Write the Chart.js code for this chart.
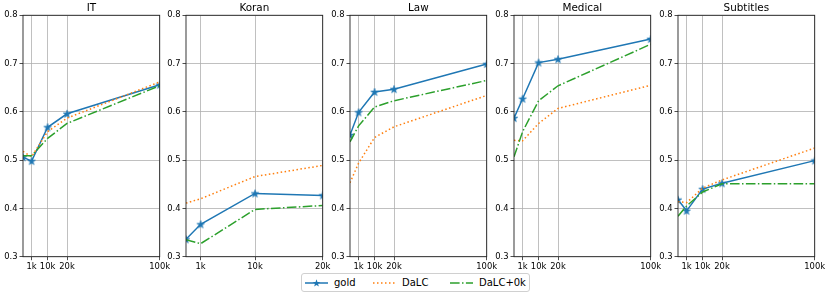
<!DOCTYPE html>
<html>
<head>
<meta charset="utf-8">
<script src="https://cdn.jsdelivr.net/npm/chart.js@4.4.1/dist/chart.umd.min.js"></script>
<style>
  body { margin: 0; width: 830px; height: 296px; background: #fff; position: relative; overflow: hidden; font-family: "DejaVu Sans", sans-serif; }
  canvas.panel { position: absolute; top: 0; }
  #legend { position: absolute; left: 301px; top: 273px; width: 227px; height: 17px; border: 1px solid #d0d0d0; border-radius: 3px; background: rgba(255,255,255,0.8); font-size: 10px; color: #000; }
  #legend .item { position: absolute; top: 0; height: 17px; display: flex; align-items: center; }
  #legend svg { display: block; margin-right: 6px; }
</style>
</head>
<body>
<div id="legend"></div>
<script>
// domains and x steps (axis units 0..100)
const domains = ['IT', 'Koran', 'Law', 'Medical', 'Subtitles'];
const xSteps = [0, 6.3, 18.0, 32.2, 100];
const xLabels = ['', '1k', '10k', '20k', '100k'];
const xStepsKoran = [0, 10.7, 50.5, 100];
const xLabelsKoran = ['', '1k', '10k', '20k'];
const yTicks = [0.3, 0.4, 0.5, 0.6, 0.7, 0.8];

// series, one list per domain (same order as domains)
const gold = [
  [0.506, 0.498, 0.568, 0.596, 0.656],
  [0.336, 0.367, 0.431, 0.427],
  [0.552, 0.599, 0.641, 0.647, 0.699],
  [0.587, 0.627, 0.702, 0.709, 0.751],
  [0.418, 0.395, 0.440, 0.452, 0.499]
];
const dalc = [
  [0.518, 0.507, 0.559, 0.587, 0.662],
  [0.411, 0.420, 0.466, 0.489],
  [0.453, 0.494, 0.547, 0.569, 0.634],
  [0.541, 0.540, 0.576, 0.607, 0.655],
  [0.414, 0.412, 0.442, 0.459, 0.525]
];
const dalc0k = [
  [0.509, 0.509, 0.545, 0.576, 0.654],
  [0.335, 0.327, 0.398, 0.406],
  [0.538, 0.571, 0.610, 0.623, 0.665],
  [0.507, 0.559, 0.623, 0.654, 0.740],
  [0.384, 0.405, 0.434, 0.451, 0.451]
];

const BLUE = '#1f77b4', ORANGE = '#ff7f0e', GREEN = '#2ca02c';
const FONT = '"DejaVu Sans", sans-serif';

// filled 5 point star like matplotlib '*'
function starPath(ctx, cx, cy, ro, ri) {
  ctx.beginPath();
  for (let k = 0; k < 10; k++) {
    const r = k % 2 ? ri : ro;
    const a = -Math.PI / 2 + k * Math.PI / 5;
    ctx.lineTo(cx + r * Math.cos(a), cy + r * Math.sin(a));
  }
  ctx.closePath();
}
const star = document.createElement('canvas');
star.width = 10; star.height = 10;
(function () {
  const c = star.getContext('2d');
  starPath(c, 5, 5.3, 4, 1.6);
  c.fillStyle = BLUE; c.fill();
  c.strokeStyle = BLUE; c.lineWidth = 0.6; c.stroke();
})();

const frame = {
  id: 'frame',
  afterDraw(chart) {
    const a = chart.chartArea, ctx = chart.ctx;
    ctx.save();
    ctx.strokeStyle = '#222';
    ctx.lineWidth = 0.9;
    ctx.strokeRect(a.left, a.top, a.right - a.left, a.bottom - a.top);
    ctx.restore();
  }
};

const plotLefts = [22.7, 186, 350.3, 514, 677.7];
const YW = 26, PW = 136.7, CW = 176;

domains.forEach((name, i) => {
  const xs = i === 1 ? xStepsKoran : xSteps;
  const labels = i === 1 ? xLabelsKoran : xLabels;
  const cv = document.createElement('canvas');
  cv.className = 'panel';
  cv.width = CW; cv.height = 296;
  cv.style.left = (plotLefts[i] - YW) + 'px';
  document.body.appendChild(cv);

  const pts = arr => arr.map((v, j) => ({ x: xs[j], y: v }));

  new Chart(cv, {
    type: 'line',
    data: {
      datasets: [
        { label: 'gold', data: pts(gold[i]), borderColor: BLUE, borderWidth: 1.5,
          pointStyle: star, pointRadius: 4, order: 2 },
        { label: 'DaLC', data: pts(dalc[i]), borderColor: ORANGE, borderWidth: 1.5,
          borderDash: [1.5, 2.5], borderCapStyle: 'butt', pointRadius: 0, order: 1 },
        { label: 'DaLC+0k', data: pts(dalc0k[i]), borderColor: GREEN, borderWidth: 1.5,
          borderDash: [9.6, 2.4, 1.5, 2.4], borderCapStyle: 'butt', pointRadius: 0, order: 0 }
      ]
    },
    options: {
      responsive: false,
      animation: false,
      devicePixelRatio: 1,
      events: [],
      layout: { padding: { left: 0, right: CW - YW - PW, top: 0, bottom: 0 } },
      elements: { line: { tension: 0, fill: false } },
      plugins: {
        legend: { display: false },
        tooltip: { enabled: false },
        title: {
          display: true, text: name, color: '#000', fullSize: false,
          font: { family: FONT, size: 10.4, weight: 'normal' },
          padding: { top: 2.5, bottom: 0.3 }
        }
      },
      scales: {
        x: {
          type: 'linear', min: 0, max: 100,
          afterBuildTicks: s => { s.ticks = xs.slice(1).map(v => ({ value: v })); },
          afterFit: s => { s.height = 39.3; },
          ticks: {
            autoSkip: false, maxRotation: 0, padding: 2, color: '#000',
            font: { family: FONT, size: 8.4 },
            callback: v => labels[xs.indexOf(v)]
          },
          grid: { color: '#b0b0b0', lineWidth: 0.8, tickLength: 3.5, tickColor: '#222' },
          border: { display: false }
        },
        y: {
          min: 0.3, max: 0.8,
          afterBuildTicks: s => { s.ticks = yTicks.map(v => ({ value: v })); },
          afterFit: s => { s.width = YW; },
          ticks: {
            padding: 2, color: '#000',
            font: { family: FONT, size: 8.4 },
            callback: v => v.toFixed(1)
          },
          grid: { color: '#b0b0b0', lineWidth: 0.8, tickLength: 3.5, tickColor: '#222' },
          border: { display: false }
        }
      }
    },
    plugins: [frame]
  });
});

// legend below the panels
const legendItems = [
  { label: 'gold', color: BLUE, dash: '', marker: true, left: 3 },
  { label: 'DaLC', color: ORANGE, dash: '1.5 2.5', marker: false, left: 71 },
  { label: 'DaLC+0k', color: GREEN, dash: '9.6 2.4 1.5 2.4', marker: false, left: 148 }
];
const legend = document.getElementById('legend');
legendItems.forEach(it => {
  const d = document.createElement('div');
  d.className = 'item';
  d.style.left = it.left + 'px';
  let svg = '<svg width="23" height="10"><line x1="0" y1="5" x2="23" y2="5" stroke="' + it.color +
    '" stroke-width="1.5"' + (it.dash ? ' stroke-dasharray="' + it.dash + '"' : '') + '/>';
  if (it.marker) {
    let p = '';
    for (let k = 0; k < 10; k++) {
      const r = k % 2 ? 1.6 : 4, a = -Math.PI / 2 + k * Math.PI / 5;
      p += (11.5 + r * Math.cos(a)).toFixed(2) + ',' + (5.3 + r * Math.sin(a)).toFixed(2) + ' ';
    }
    svg += '<polygon points="' + p + '" fill="' + it.color + '"/>';
  }
  svg += '</svg>';
  d.innerHTML = svg + '<span>' + it.label + '</span>';
  legend.appendChild(d);
});
</script>
</body>
</html>
